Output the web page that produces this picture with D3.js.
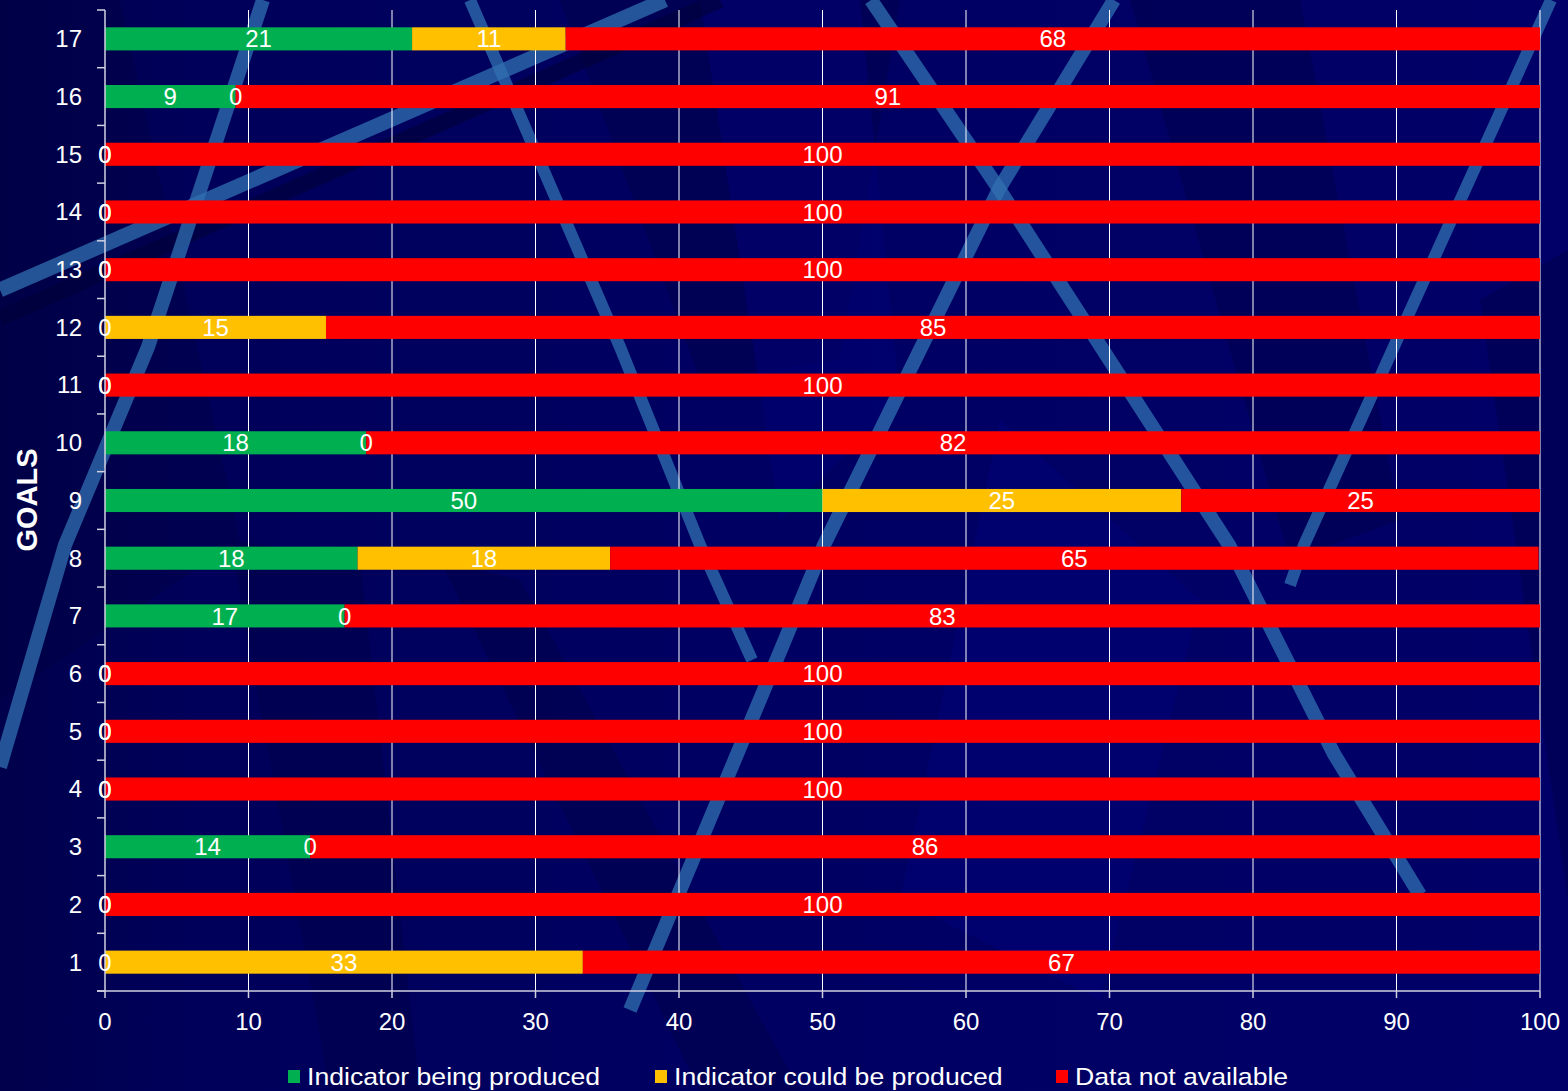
<!DOCTYPE html>
<html>
<head>
<meta charset="utf-8">
<script src="https://cdn.jsdelivr.net/npm/d3@7/dist/d3.min.js"></script>
<style>
  html, body { margin: 0; padding: 0; background: #000060; }
  svg { display: block; }
  text { font-family: "Liberation Sans", Arial, sans-serif; fill: #ffffff; }
</style>
</head>
<body>
<svg id="chart" width="1568" height="1091"></svg>
<script>
// ---- data ----
const goals = ["1","2","3","4","5","6","7","8","9","10","11","12","13","14","15","16","17"];
const produced     = [0, 0, 14.3, 0, 0, 0, 16.7, 17.6, 50, 18.2, 0, 0, 0, 0, 0, 9.1, 21.4];
const couldBe      = [33.3, 0, 0, 0, 0, 0, 0, 17.6, 25, 0, 0, 15.4, 0, 0, 0, 0, 10.7];
const notAvailable = [66.7, 100, 85.7, 100, 100, 100, 83.3, 64.7, 25, 81.8, 100, 84.6, 100, 100, 100, 90.9, 67.9];
const seriesNames  = ["Indicator being produced", "Indicator could be produced", "Data not available"];
const seriesColors = ["#00B050", "#FFC000", "#FF0000"];
const xTicks = [0, 10, 20, 30, 40, 50, 60, 70, 80, 90, 100];
const yTitle = "GOALS";

(function () {
const W = 1568, H = 1091;
const svg = d3.select("#chart");

// ---- decorative background ----
const defs = svg.append("defs");
const bg = defs.append("linearGradient").attr("id", "bgGrad").attr("x1", 0).attr("x2", 1).attr("y1", 0).attr("y2", 0);
bg.append("stop").attr("offset", "0%").attr("stop-color", "#00004C");
bg.append("stop").attr("offset", "12%").attr("stop-color", "#00005A");
bg.append("stop").attr("offset", "45%").attr("stop-color", "#000062");
bg.append("stop").attr("offset", "100%").attr("stop-color", "#000068");
svg.append("rect").attr("width", W).attr("height", H).attr("fill", "url(#bgGrad)");

const deco = svg.append("g");
const darkPolys = [
  [[0,0],[120,0],[240,540],[0,700]],
  [[230,540],[360,560],[420,1091],[330,1091]],
  [[560,0],[900,0],[840,360],[700,380]],
  [[1130,0],[1300,0],[1400,520],[1290,560]],
  [[1480,300],[1568,250],[1568,900]],
  [[440,560],[520,580],[800,1091],[700,1091]]
];
darkPolys.forEach(p => deco.append("path")
  .attr("d", d3.line()(p) + "Z").attr("fill", "#000040").attr("opacity", 0.35));

const lightPolys = [
  [[700,0],[860,0],[900,400],[780,520]],
  [[1000,420],[1200,600],[1100,1000],[900,900]]
];
lightPolys.forEach(p => deco.append("path")
  .attr("d", d3.line()(p) + "Z").attr("fill", "#000077").attr("opacity", 0.5));

deco.append("path").attr("d", d3.line()([[0,318],[720,0]]))
  .attr("stroke", "#000038").attr("stroke-width", 16).attr("opacity", 0.6).attr("fill", "none");

const stripes = [
  {pts: [[0,290],[665,0]], w: 15},
  {pts: [[263,0],[148,347],[65,545],[0,767]], w: 14},
  {pts: [[470,0],[620,347],[700,545],[752,660]], w: 12},
  {pts: [[871,0],[999,189],[1229,545],[1334,754],[1420,895]], w: 14},
  {pts: [[1114,0],[999,189],[824,545],[784,642],[630,1010]], w: 14},
  {pts: [[1551,0],[1304,545],[1290,585]], w: 12}
];
stripes.forEach(s => deco.append("path")
  .attr("d", d3.line()(s.pts))
  .attr("stroke", "#3070B0").attr("stroke-width", s.w).attr("opacity", 0.75)
  .attr("fill", "none").attr("stroke-linecap", "butt").attr("stroke-linejoin", "round"));

// ---- chart ----
const mLeft = 105, mRight = 1540, mTop = 10, mBottom = 991;
const x = d3.scaleLinear().domain([0, 100]).range([mLeft, mRight]);
const y = d3.scaleBand().domain(goals.slice().reverse()).range([mTop, mBottom])
  .paddingInner(0.6).paddingOuter(0.3);

svg.append("g").selectAll("line").data(xTicks.filter(d => d > 0)).join("line")
  .attr("x1", d => x(d)).attr("x2", d => x(d))
  .attr("y1", mTop).attr("y2", mBottom)
  .attr("stroke", "#ffffff").attr("stroke-width", 1);

const rows = goals.map((g, i) => ({goal: g, v: [produced[i], couldBe[i], notAvailable[i]]}));
const segs = [];
rows.forEach(r => {
  let acc = 0;
  r.v.forEach((val, k) => {
    segs.push({goal: r.goal, k, x0: acc, x1: acc + val, val});
    acc += val;
  });
});

svg.append("g").selectAll("rect").data(segs.filter(s => s.val > 0)).join("rect")
  .attr("x", d => x(d.x0))
  .attr("width", d => x(d.x1) - x(d.x0))
  .attr("y", d => y(d.goal))
  .attr("height", y.bandwidth())
  .attr("fill", d => seriesColors[d.k]);

const yAxisG = svg.append("g");
yAxisG.append("line").attr("x1", mLeft).attr("x2", mLeft).attr("y1", mTop).attr("y2", mBottom)
  .attr("stroke", "#D0D0E0").attr("stroke-width", 1.5);
const boundaries = d3.range(goals.length + 1).map(i => mTop + i * y.step());
yAxisG.selectAll("line.tick").data(boundaries).join("line").attr("class", "tick")
  .attr("x1", mLeft - 8).attr("x2", mLeft).attr("y1", d => d).attr("y2", d => d)
  .attr("stroke", "#D0D0E0").attr("stroke-width", 1.5);
yAxisG.selectAll("text").data(goals).join("text")
  .attr("x", 82).attr("y", d => y(d) + y.bandwidth() / 2)
  .attr("dy", "0.35em").attr("text-anchor", "end")
  .attr("font-size", 24).text(d => d);

const xAxisG = svg.append("g");
xAxisG.append("line").attr("x1", mLeft - 8).attr("x2", mRight).attr("y1", mBottom).attr("y2", mBottom)
  .attr("stroke", "#D0D0E0").attr("stroke-width", 1.5);
xAxisG.selectAll("line.tick").data(xTicks).join("line").attr("class", "tick")
  .attr("x1", d => x(d)).attr("x2", d => x(d)).attr("y1", mBottom).attr("y2", mBottom + 7)
  .attr("stroke", "#D0D0E0").attr("stroke-width", 1.5);
xAxisG.selectAll("text").data(xTicks).join("text")
  .attr("x", d => x(d)).attr("y", 1022).attr("dy", "0.35em")
  .attr("text-anchor", "middle").attr("font-size", 24).text(d => d);

svg.append("g").selectAll("text").data(segs).join("text")
  .attr("x", d => x((d.x0 + d.x1) / 2))
  .attr("y", d => y(d.goal) + y.bandwidth() / 2)
  .attr("dy", "0.36em").attr("text-anchor", "middle")
  .attr("font-size", 24).text(d => Math.round(d.val));

svg.append("text").attr("transform", "translate(27,500) rotate(-90)")
  .attr("text-anchor", "middle").attr("dy", "0.35em")
  .attr("font-size", 29).attr("font-weight", "bold").text(yTitle);

const legendX = [288, 655, 1056];
const lg = svg.append("g").selectAll("g").data(seriesNames).join("g")
  .attr("transform", (d, i) => `translate(${legendX[i]},1076)`);
lg.append("rect").attr("x", 0).attr("y", -6).attr("width", 12).attr("height", 13)
  .attr("fill", (d, i) => seriesColors[i]);
lg.append("text").attr("transform", "translate(19,0) scale(1.11,1)").attr("dy", "0.36em")
  .attr("font-size", 24).text(d => d);
})();
</script>
</body>
</html>
